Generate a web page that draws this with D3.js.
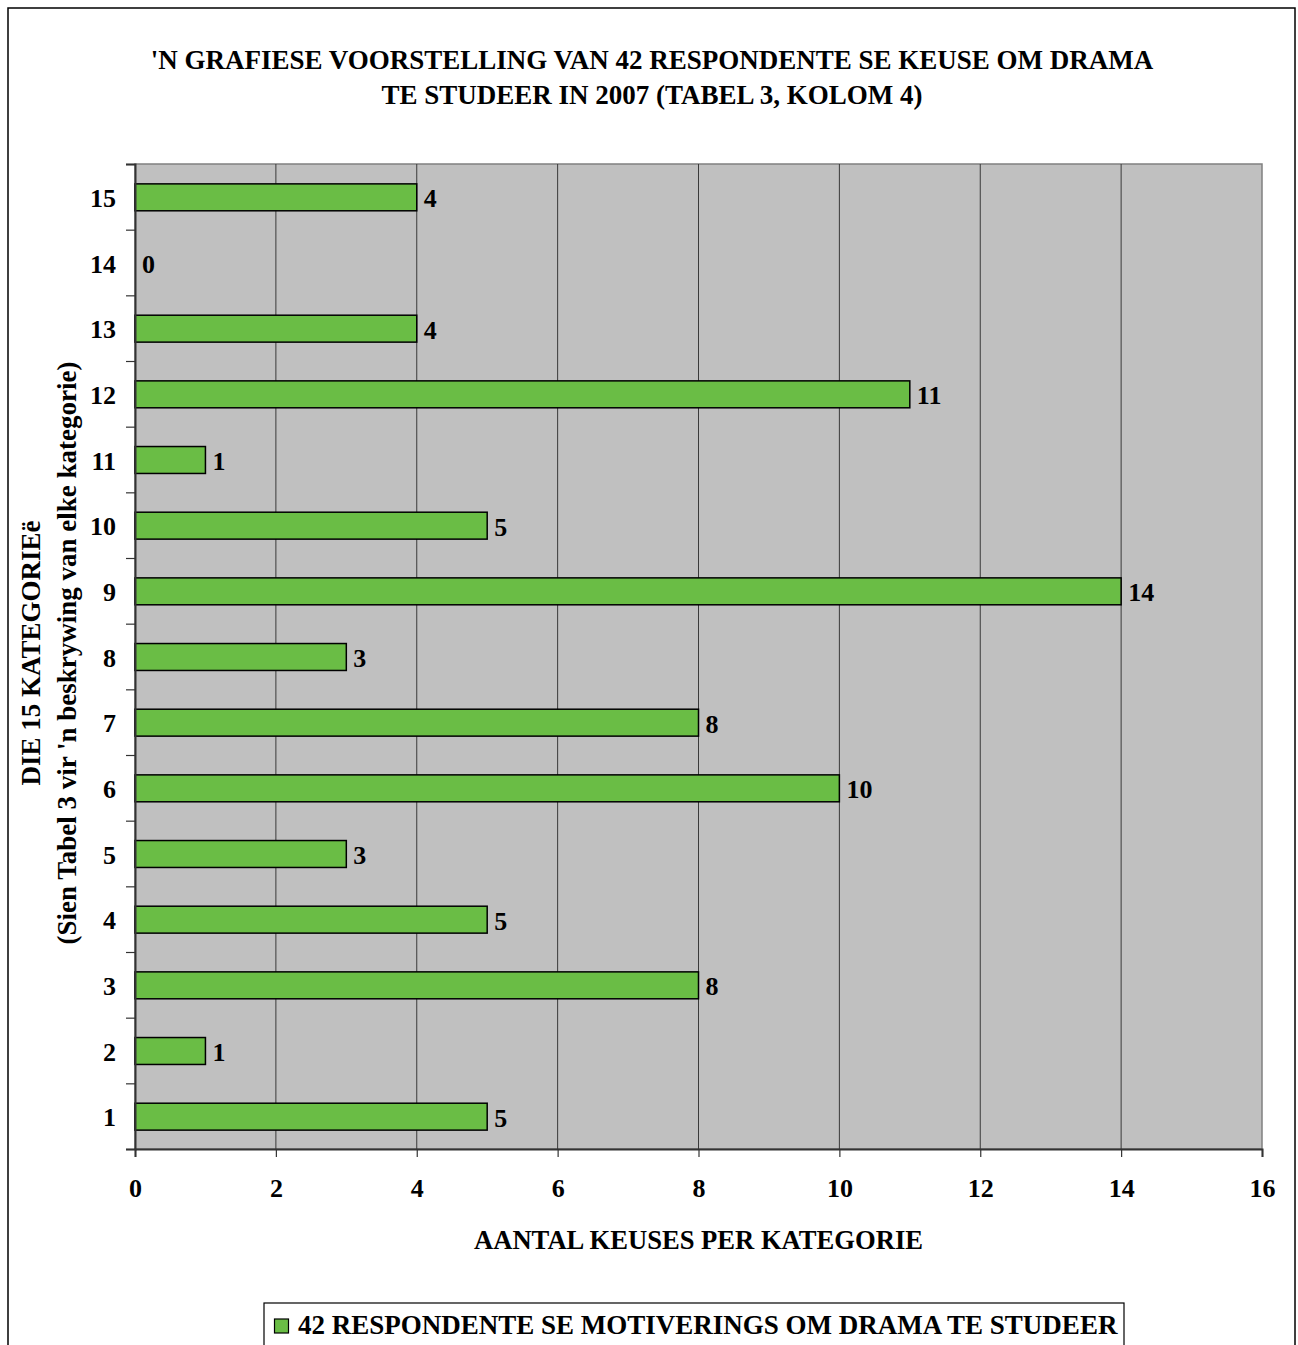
<!DOCTYPE html>
<html>
<head>
<meta charset="utf-8">
<script src="https://cdn.jsdelivr.net/npm/d3@7"></script>
<style>
  html, body { margin: 0; padding: 0; background: #fff; }
  svg { display: block; }
  text { font-family: "Liberation Serif", "Times New Roman", serif; font-weight: bold; fill: #000; }
</style>
</head>
<body>
<svg id="chart" width="1298" height="1345"></svg>
<script>
const categories = ["1","2","3","4","5","6","7","8","9","10","11","12","13","14","15"];
const values = [5, 1, 8, 5, 3, 10, 8, 3, 14, 5, 1, 11, 4, 0, 4];
const xTicks = [0, 2, 4, 6, 8, 10, 12, 14, 16];
const titleLines = ["'N GRAFIESE VOORSTELLING VAN 42 RESPONDENTE SE KEUSE OM DRAMA", "TE STUDEER IN 2007 (TABEL 3, KOLOM 4)"];
const yTitleLines = ["DIE 15 KATEGORIEë", "(Sien Tabel 3 vir 'n beskrywing van elke kategorie)"];
const xTitle = "AANTAL KEUSES PER KATEGORIE";
const seriesName = "42 RESPONDENTE SE MOTIVERINGS OM DRAMA TE STUDEER";

const svg = d3.select("#chart");
const plot = { left: 135, right: 1262, top: 164, bottom: 1149 };

// outer chart border
svg.append("rect").attr("x", 8).attr("y", 8).attr("width", 1287).attr("height", 1360)
  .attr("fill", "#fff").attr("stroke", "#000").attr("stroke-width", 1.5);

// scales
const x = d3.scaleLinear().domain([0, 16]).range([plot.left, plot.right]);
const y = d3.scaleBand().domain(categories.slice().reverse())
  .range([plot.top, plot.bottom]).paddingInner(0.59).paddingOuter(0.295);
const yEdge = d3.scaleLinear().domain([0, categories.length]).range([plot.bottom, plot.top]);

// plot background
svg.append("rect").attr("x", plot.left).attr("y", plot.top)
  .attr("width", plot.right - plot.left).attr("height", plot.bottom - plot.top)
  .attr("fill", "#c0c0c0").attr("stroke", "#808080").attr("stroke-width", 1.5);

// vertical gridlines
svg.append("g").selectAll("line").data(xTicks.slice(1, -1)).join("line")
  .attr("x1", d => x(d)).attr("x2", d => x(d))
  .attr("y1", plot.top).attr("y2", plot.bottom)
  .attr("stroke", "#3a3a3a").attr("stroke-width", 1);

// bars
svg.append("g").selectAll("rect").data(values.map((v, i) => ({ c: categories[i], v })).filter(d => d.v > 0)).join("rect")
  .attr("x", x(0)).attr("y", d => y(d.c) + 0.5)
  .attr("width", d => x(d.v) - x(0)).attr("height", y.bandwidth())
  .attr("fill", "#6abd45").attr("stroke", "#000").attr("stroke-width", 1.5);

// value labels
svg.append("g").selectAll("text").data(values.map((v, i) => ({ c: categories[i], v }))).join("text")
  .attr("x", d => x(d.v) + 7).attr("y", d => y(d.c) + y.bandwidth() / 2 + 1.5)
  .attr("dy", "0.35em").attr("font-size", 26)
  .text(d => d.v);

// x axis
const xAxis = d3.axisBottom(x).tickValues(xTicks).tickSize(8).tickPadding(22).tickFormat(d3.format("d"));
const gx = svg.append("g").attr("transform", `translate(0,${plot.bottom})`).call(xAxis);
gx.select(".domain").attr("stroke", "#333").attr("stroke-width", 2);
gx.selectAll(".tick line").attr("stroke", "#333").attr("stroke-width", 1.2);
gx.selectAll(".tick text").attr("font-size", 26).attr("font-family", "Liberation Serif").attr("font-weight", "bold").attr("fill", "#000");

// y axis: ticks at category edges
const yAxis = d3.axisLeft(yEdge).tickValues(d3.range(0, categories.length + 1)).tickSize(9).tickFormat("");
const gy = svg.append("g").attr("transform", `translate(${plot.left},0)`).call(yAxis);
gy.select(".domain").attr("stroke", "#333").attr("stroke-width", 2);
gy.selectAll(".tick line").attr("stroke", "#333").attr("stroke-width", 1.2);

// category labels
svg.append("g").selectAll("text").data(categories).join("text")
  .attr("x", 116).attr("y", d => y(d) + y.bandwidth() / 2 + 1)
  .attr("dy", "0.35em").attr("text-anchor", "end").attr("font-size", 26)
  .text(d => d);

// title
svg.append("g").selectAll("text").data(titleLines).join("text")
  .attr("x", 652).attr("y", (d, i) => 69 + i * 35)
  .attr("text-anchor", "middle").attr("font-size", 27)
  .text(d => d);

// x title
svg.append("text").attr("x", (plot.left + plot.right) / 2).attr("y", 1249)
  .attr("text-anchor", "middle").attr("font-size", 26.6).text(xTitle);

// y title
const yMid = 653;
svg.append("g").selectAll("text").data(yTitleLines).join("text")
  .attr("transform", (d, i) => `translate(${40 + i * 36},${yMid}) rotate(-90)`)
  .attr("text-anchor", "middle").attr("font-size", 27)
  .text(d => d);

// legend
const lg = svg.append("g");
lg.append("rect").attr("x", 264).attr("y", 1303).attr("width", 860).attr("height", 70)
  .attr("fill", "#fff").attr("stroke", "#000").attr("stroke-width", 1.2);
lg.append("rect").attr("x", 274.5).attr("y", 1319).attr("width", 14).attr("height", 14)
  .attr("fill", "#6abd45").attr("stroke", "#000").attr("stroke-width", 1.2);
lg.append("text").attr("x", 298).attr("y", 1334).attr("font-size", 27).text(seriesName);
</script>
</body>
</html>
